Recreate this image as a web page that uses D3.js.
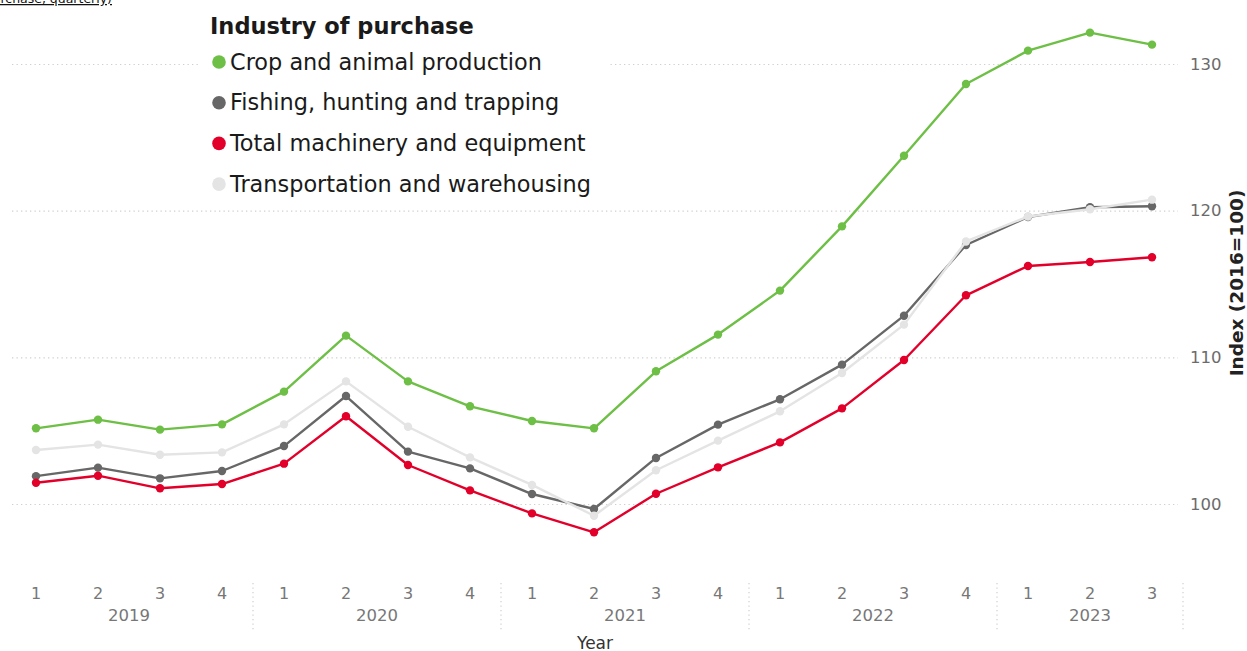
<!DOCTYPE html>
<html>
<head>
<meta charset="utf-8">
<script src="https://cdn.jsdelivr.net/npm/d3@7"></script>
<style>
  html, body { margin: 0; padding: 0; background: #fff; }
  svg { display: block; font-family: "DejaVu Sans", Verdana, sans-serif; }
</style>
</head>
<body>
<svg id="chart" width="1247" height="651"></svg>
<script>
// Price index by industry of purchase, quarterly, 2019 Q1 – 2023 Q3
const years    = [2019,2019,2019,2019,2020,2020,2020,2020,2021,2021,2021,2021,2022,2022,2022,2022,2023,2023,2023];
const quarters = ["1","2","3","4","1","2","3","4","1","2","3","4","1","2","3","4","1","2","3"];

const crop      = [105.16,105.75,105.07,105.43,107.66,111.48,108.36,106.66,105.66,105.16,109.05,111.55,114.55,118.93,123.74,128.64,130.91,132.14,131.32];
const fishing   = [101.90,102.48,101.75,102.25,103.95,107.36,103.57,102.43,100.68, 99.66,103.14,105.41,107.14,109.50,112.84,117.66,119.57,120.23,120.30];
const machinery = [101.45,101.93,101.07,101.36,102.75,105.98,102.66,100.93, 99.36, 98.07,100.70,102.50,104.20,106.52,109.82,114.23,116.23,116.50,116.82];
const transport = [103.68,104.05,103.36,103.52,105.43,108.36,105.27,103.18,101.30, 99.20,102.30,104.32,106.32,108.93,112.23,117.90,119.60,120.10,120.75];

const seriesNames  = ["Crop and animal production","Fishing, hunting and trapping","Total machinery and equipment","Transportation and warehousing"];
const seriesValues = [crop, fishing, machinery, transport];
const seriesColors = ["#6dbf45","#676767","#e2002b","#e4e4e4"];
const yTicks = [100,110,120,130];

const legendTitle = "Industry of purchase";
const xTitle = "Year";
const yTitle = "Index (2016=100)";

const svg = d3.select("#chart");
const keys = years.map((y, i) => y + "-" + quarters[i]);

const x = d3.scaleBand().domain(keys).range([5, 1183]).padding(0);
const cx = k => x(k) + x.bandwidth() / 2;
const y = d3.scaleLinear().domain([100, 130]).range([504, 64]);

// link text running off the top edge
svg.append("text")
  .attr("x", 112).attr("y", 3)
  .attr("text-anchor", "end")
  .attr("font-size", 12.5)
  .attr("fill", "#111")
  .style("text-decoration", "underline")
  .text("purchase, quarterly)");

// horizontal dotted gridlines
const grid = svg.append("g").attr("transform", "translate(12,0)")
  .call(d3.axisRight(y).tickValues(yTicks).tickSize(1166).tickFormat(""));
grid.select(".domain").remove();
grid.selectAll(".tick line")
  .attr("stroke", "#cfcfcf").attr("stroke-width", 1.2)
  .attr("stroke-dasharray", "1.3,3.2");

// y tick labels on the right
const yAxis = svg.append("g").attr("transform", "translate(1178,0)")
  .call(d3.axisRight(y).tickValues(yTicks).tickSize(0).tickPadding(12));
yAxis.select(".domain").remove();
yAxis.selectAll("text")
  .attr("font-size", 16.5).attr("fill", "#6b6b6b")
  .style("font-family", "DejaVu Sans, sans-serif");

// y axis title
svg.append("text")
  .attr("transform", "translate(1243,283) rotate(-90)")
  .attr("text-anchor", "middle")
  .attr("font-size", 18.5).attr("font-weight", "bold").attr("fill", "#222")
  .text(yTitle);

// x axis: quarter labels
const xAxis = svg.append("g").attr("transform", "translate(0,580)")
  .call(d3.axisBottom(x).tickSize(0).tickPadding(8).tickFormat((k, i) => quarters[i]));
xAxis.select(".domain").remove();
xAxis.selectAll("text")
  .attr("font-size", 16).attr("fill", "#777")
  .style("font-family", "DejaVu Sans, sans-serif");

// year group labels and dotted separators
const yearGroups = d3.groups(keys.map((k, i) => ({ k, year: years[i] })), d => d.year);
yearGroups.forEach(([yr, items]) => {
  const first = items[0].k, last = items[items.length - 1].k;
  const mid = (cx(first) + cx(last)) / 2;
  svg.append("text")
    .attr("x", mid).attr("y", 621)
    .attr("text-anchor", "middle")
    .attr("font-size", 16.5).attr("fill", "#777")
    .text(yr);
  const sepX = x(last) + x.bandwidth();
  svg.append("line")
    .attr("x1", sepX).attr("x2", sepX)
    .attr("y1", 583).attr("y2", 630)
    .attr("stroke", "#cfcfcf").attr("stroke-width", 1.2)
    .attr("stroke-dasharray", "1.3,3.2");
});

// x axis title
svg.append("text")
  .attr("x", 595).attr("y", 649)
  .attr("text-anchor", "middle")
  .attr("font-size", 17).attr("fill", "#333")
  .text(xTitle);

// legend panel (white backing over gridlines)
const legend = svg.append("g");
legend.append("rect")
  .attr("x", 200).attr("y", 8).attr("width", 410).attr("height", 192)
  .attr("fill", "#fff");
legend.append("text")
  .attr("x", 210).attr("y", 34)
  .attr("font-size", 22.5).attr("font-weight", "bold").attr("fill", "#1a1a1a")
  .text(legendTitle);
seriesNames.forEach((name, i) => {
  const cy = 62 + i * 40.7;
  legend.append("circle")
    .attr("cx", 219).attr("cy", cy).attr("r", 6.8)
    .attr("fill", seriesColors[i]);
  legend.append("text")
    .attr("x", 230).attr("y", cy + 7.5)
    .attr("font-size", 22.4).attr("fill", "#1a1a1a")
    .text(name);
});

// series lines and markers
const line = d3.line().x((d, i) => cx(keys[i])).y(d => y(d));
seriesValues.forEach((vals, s) => {
  const g = svg.append("g");
  g.append("path")
    .datum(vals)
    .attr("d", line)
    .attr("fill", "none")
    .attr("stroke", seriesColors[s])
    .attr("stroke-width", 2.4)
    .attr("stroke-linejoin", "round");
  g.selectAll("circle")
    .data(vals)
    .join("circle")
    .attr("cx", (d, i) => cx(keys[i]))
    .attr("cy", d => y(d))
    .attr("r", 4.2)
    .attr("fill", seriesColors[s]);
});
</script>
</body>
</html>
